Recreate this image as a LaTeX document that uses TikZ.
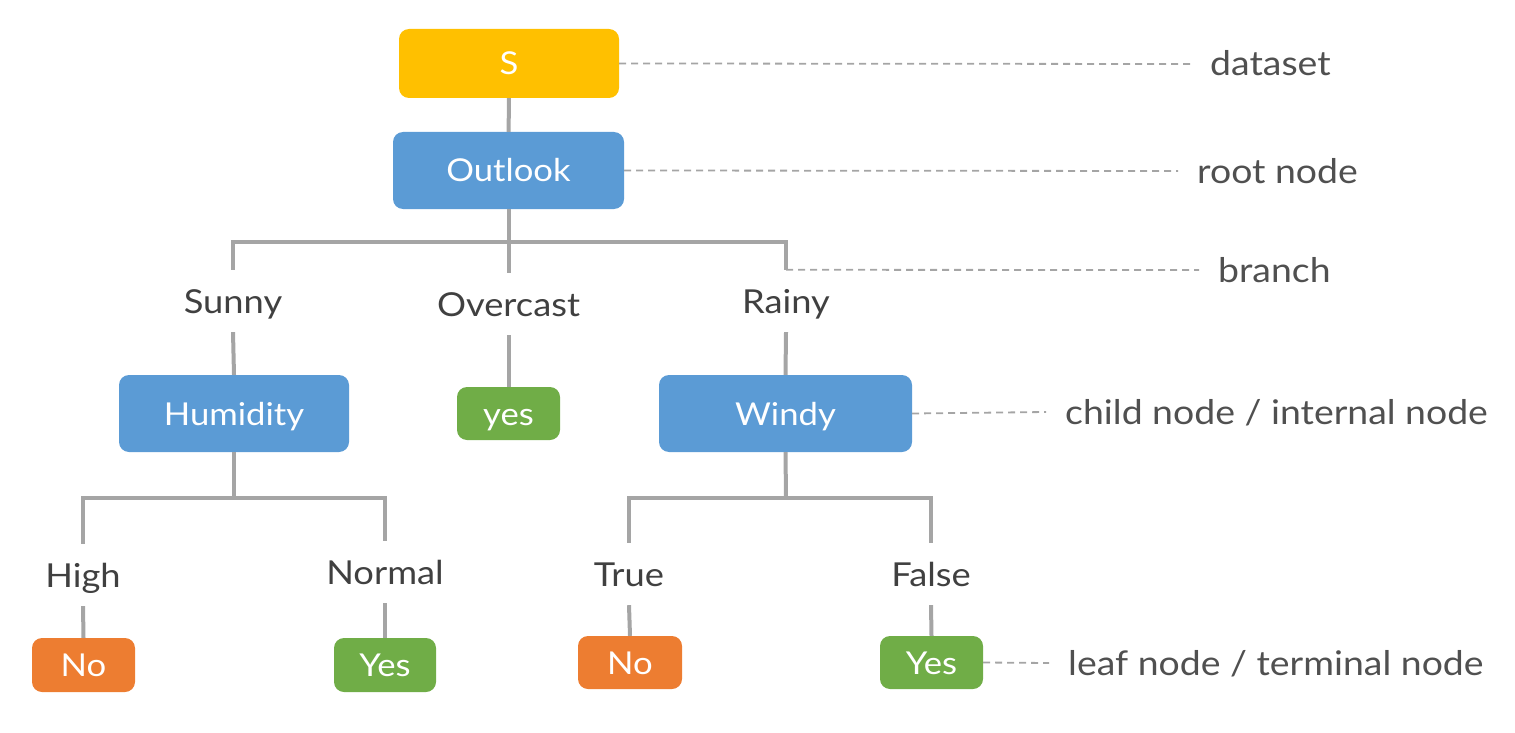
\documentclass[tikz,border=0pt]{standalone}
\usepackage{fontspec}
\setmainfont[FakeStretch=1.1]{Lato}
\definecolor{cyellow}{HTML}{FFC000}
\definecolor{cblue}{HTML}{5B9BD5}
\definecolor{cgreen}{HTML}{70AD47}
\definecolor{corange}{HTML}{ED7D31}
\definecolor{cgray}{HTML}{A5A5A5}
\definecolor{ctext}{HTML}{404040}
\definecolor{cnote}{HTML}{505050}
\begin{document}
\begin{tikzpicture}[x=1pt,y=-1pt,
  box/.style={rounded corners=10pt,inner sep=0pt,text=white,text height=23pt,text depth=0pt,font=\fontsize{31.5}{36}\selectfont},
  lbl/.style={inner sep=0pt,minimum height=62pt,text height=24pt,text depth=0pt,text=ctext,font=\fontsize{33}{38}\selectfont},
  note/.style={anchor=west,inner ysep=0pt,inner xsep=19pt,text height=24pt,text depth=0pt,text=cnote,font=\fontsize{34}{40}\selectfont},
  conn/.style={draw=cgray,line width=4pt},
  guide/.style={draw=cgray,line width=1.8pt,dash pattern=on 7pt off 5pt}]
\useasboundingbox (0,0) rectangle (1515,733);
% boxes
\node[box,fill=cyellow,minimum width=220pt,minimum height=69pt] (S) at (509,63.5) {S};
\node[box,fill=cblue,minimum width=231pt,minimum height=77pt] (outlook) at (508.5,170.5) {Outlook};
\node[box,fill=cblue,minimum width=230pt,minimum height=77pt] (humidity) at (234,413.5) {Humidity};
\node[box,fill=cgreen,minimum width=103pt,minimum height=53pt] (yes1) at (508.5,413.5) {yes};
\node[box,fill=cblue,minimum width=253pt,minimum height=77pt] (windy) at (785.5,413.5) {Windy};
\node[box,fill=corange,minimum width=103pt,minimum height=54pt] (no1) at (83.5,665) {No};
\node[box,fill=cgreen,minimum width=102pt,minimum height=54pt] (yes2) at (385,665) {Yes};
\node[box,fill=corange,minimum width=104pt,minimum height=53pt] (no2) at (630,662.5) {No};
\node[box,fill=cgreen,minimum width=103pt,minimum height=53pt] (yes3) at (931.5,662.5) {Yes};
% branch labels
\node[lbl] (sunny) at (233,301) {Sunny};
\node[lbl] (overcast) at (508.5,304) {Overcast};
\node[lbl] (rainy) at (786,301) {Rainy};
\node[lbl] (high) at (83,575) {High};
\node[lbl] (normal) at (385,572) {Normal};
\node[lbl] (true) at (629,574) {True};
\node[lbl] (false) at (931,574) {False};
% bar coordinates
\coordinate (b1) at (509,242);
\coordinate (b2) at (234,498);
\coordinate (b3) at (786,498);
% annotations
\node[note] (dataset) at (1191,64) {dataset};
\node[note] (root) at (1178,171) {root node};
\node[note] (branch) at (1199,270) {branch};
\node[note] (child) at (1046,412) {child node / internal node};
\node[note] (leaf) at (1049,663) {leaf node / terminal node};
% connectors
\draw[conn] (S) -- (outlook);
\draw[conn] (outlook.south) -- (overcast.north);
\draw[conn] (sunny.north) -- (sunny.north |- b1) -- (rainy.north |- b1) -- (rainy.north);
\draw[conn] (sunny.south) -- (humidity.north);
\draw[conn] (overcast.south) -- (yes1.north);
\draw[conn] (rainy.south) -- (windy.north);
\draw[conn] (humidity.south) -- (b2);
\draw[conn] (high.north) -- (high.north |- b2) -- (normal.north |- b2) -- (normal.north);
\draw[conn] (windy.south) -- (b3);
\draw[conn] (true.north) -- (true.north |- b3) -- (false.north |- b3) -- (false.north);
\draw[conn] (high.south) -- (no1.north);
\draw[conn] (normal.south) -- (yes2.north);
\draw[conn] (true.south) -- (no2.north);
\draw[conn] (false.south) -- (yes3.north);
% guides
\draw[guide] (S.east) -- (dataset.west);
\draw[guide] (outlook.east) -- (root.west);
\draw[guide] (rainy.north) -- (branch.west);
\draw[guide] (windy.east) -- (child.west);
\draw[guide] (yes3.east) -- (leaf.west);
\end{tikzpicture}
\end{document}
